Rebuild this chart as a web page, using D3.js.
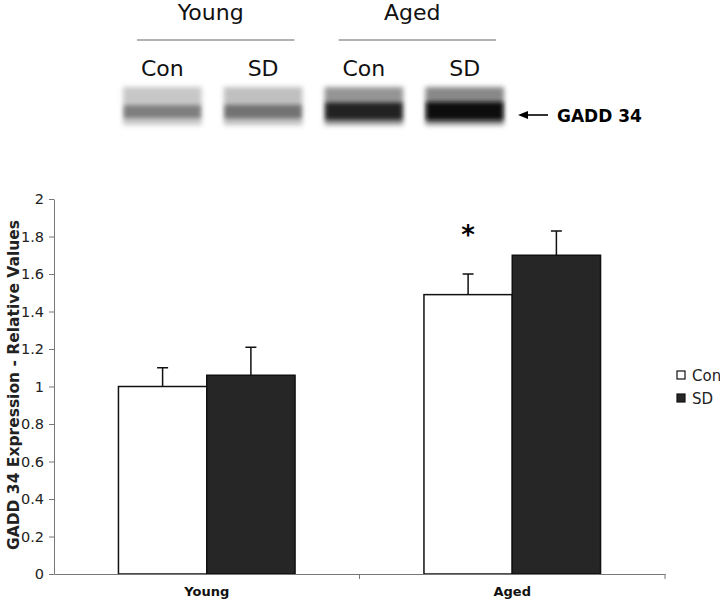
<!DOCTYPE html>
<html>
<head>
<meta charset="utf-8">
<script src="https://cdn.jsdelivr.net/npm/d3@7"></script>
<style>
  body { margin: 0; background: #fff; }
  svg { display: block; font-family: "DejaVu Sans", Verdana, sans-serif; }
</style>
</head>
<body>
<svg width="720" height="601"></svg>
<script>
// data
var groups = ["Young", "Aged"];
var series = ["Con", "SD"];
var meanValues = [[1.0, 1.06], [1.49, 1.70]];   // per group: Con, SD
var errorValues = [[0.10, 0.15], [0.11, 0.13]];
var yTicks = [0, 0.2, 0.4, 0.6, 0.8, 1, 1.2, 1.4, 1.6, 1.8, 2];
var significant = [[false, false], [true, false]];

// western blot lanes (band darkness 0..1)
var blotLanes = ["Con", "SD", "Con", "SD"];
var blotStrength = [0.6, 0.65, 0.92, 1.0];

var svg = d3.select("svg");

//----- blot panel -----
var blot = svg.append("g");
var xLane = d3.scaleBand().domain(d3.range(4)).range([122, 505]).paddingInner(0.2);

var defs = svg.append("defs");
defs.append("filter").attr("id", "blur").attr("x", "-20%").attr("y", "-80%").attr("width", "140%").attr("height", "260%")
    .append("feGaussianBlur").attr("stdDeviation", 2);
defs.append("filter").attr("id", "blur2").attr("x", "-20%").attr("y", "-50%").attr("width", "140%").attr("height", "200%")
    .append("feGaussianBlur").attr("stdDeviation", 2.5);

var grey = function(s) { return d3.interpolateGreys(s); };

// smear above and around the band
blot.selectAll(".smear").data(blotStrength).enter().append("rect")
    .attr("x", function(d, i) { return xLane(i) + 1; })
    .attr("y", 87)
    .attr("width", xLane.bandwidth() - 2)
    .attr("height", 38)
    .attr("fill", function(d) { return grey(d * 0.55); })
    .attr("filter", "url(#blur2)");
// main band
blot.selectAll(".band").data(blotStrength).enter().append("rect")
    .attr("x", function(d, i) { return xLane(i) + 2; })
    .attr("y", function(d) { return 110 - 8 * d; })
    .attr("width", xLane.bandwidth() - 4)
    .attr("height", function(d) { return 5 + 13 * d; })
    .attr("fill", function(d) { return grey(d * 0.97); })
    .attr("filter", "url(#blur)");

blot.selectAll(".lane").data(blotLanes).enter().append("text")
    .attr("x", function(d, i) { return xLane(i) + xLane.bandwidth() / 2; })
    .attr("y", 76)
    .attr("text-anchor", "middle")
    .attr("font-size", 22)
    .attr("fill", "#111")
    .text(function(d) { return d; });

groups.forEach(function(g, gi) {
    var x1 = xLane(gi * 2) + 15, x2 = xLane(gi * 2 + 1) + xLane.bandwidth() - 9;
    blot.append("line").attr("x1", x1).attr("x2", x2).attr("y1", 40).attr("y2", 40)
        .attr("stroke", "#666").attr("stroke-width", 1.2);
    blot.append("text").attr("x", (x1 + x2) / 2 - 5).attr("y", 20)
        .attr("text-anchor", "middle").attr("font-size", 22).attr("fill", "#111").text(g);
});

// arrow + label
blot.append("line").attr("x1", 548).attr("x2", 524).attr("y1", 115).attr("y2", 115)
    .attr("stroke", "#000").attr("stroke-width", 1.6);
blot.append("path").attr("d", "M518,115 L528,111 L528,119 Z").attr("fill", "#000");
blot.append("text").attr("x", 557).attr("y", 122).attr("font-size", 17).attr("font-weight", "bold")
    .attr("fill", "#000").text("GADD 34");

//----- bar chart -----
var x0 = d3.scaleBand().domain(groups).range([54, 665]);
var x1 = d3.scaleBand().domain(series).range([0, x0.bandwidth()]).paddingOuter(0.73);
var y = d3.scaleLinear().domain([0, 2]).range([574, 199]);
var fills = { Con: "#ffffff", SD: "#262626" };

var chart = svg.append("g");

var bars = [];
groups.forEach(function(g, gi) {
    series.forEach(function(s, si) {
        bars.push({ g: g, s: s, v: meanValues[gi][si], e: errorValues[gi][si], sig: significant[gi][si] });
    });
});

// error bars (drawn first so the bar covers the lower half)
chart.selectAll(".err").data(bars).enter().append("path")
    .attr("d", function(d) {
        var cx = x0(d.g) + x1(d.s) + x1.bandwidth() / 2;
        return "M" + cx + "," + y(d.v) + "V" + y(d.v + d.e) + "M" + (cx - 5.5) + "," + y(d.v + d.e) + "H" + (cx + 5.5);
    })
    .attr("stroke", "#111").attr("stroke-width", 1.5).attr("fill", "none");

chart.selectAll(".bar").data(bars).enter().append("rect")
    .attr("x", function(d) { return x0(d.g) + x1(d.s); })
    .attr("y", function(d) { return y(d.v); })
    .attr("width", x1.bandwidth())
    .attr("height", function(d) { return y(0) - y(d.v); })
    .attr("fill", function(d) { return fills[d.s]; })
    .attr("stroke", "#111").attr("stroke-width", 1.5);

chart.selectAll(".star").data(bars.filter(function(d) { return d.sig; })).enter().append("text")
    .attr("x", function(d) { return x0(d.g) + x1(d.s) + x1.bandwidth() / 2; })
    .attr("y", function(d) { return y(d.v + d.e) - 30; })
    .attr("text-anchor", "middle").attr("font-size", 26).attr("font-weight", "bold")
    .text("*");

// y axis
var yAxis = chart.append("g").attr("transform", "translate(54,0)")
    .call(d3.axisLeft(y).tickValues(yTicks).tickSize(5).tickSizeOuter(0).tickFormat(d3.format("")));
yAxis.select(".domain").attr("stroke", "#777");
yAxis.selectAll(".tick line").attr("stroke", "#777");
yAxis.selectAll("text").attr("font-size", 14.5).attr("fill", "#222").attr("font-family", "DejaVu Sans").attr("x", -10);

// x axis
var xAxis = chart.append("g").attr("transform", "translate(0,574)")
    .call(d3.axisBottom(x0).tickSize(0).tickSizeOuter(0));
xAxis.select(".domain").attr("stroke", "#777");
xAxis.selectAll("text").attr("font-size", 13).attr("font-weight", "bold").attr("fill", "#111")
    .attr("font-family", "DejaVu Sans").attr("y", 22).attr("dy", 0);
// category boundary ticks
xAxis.selectAll(".sep").data(x0.domain()).enter().append("line")
    .attr("x1", function(d) { return x0(d) + x0.bandwidth(); })
    .attr("x2", function(d) { return x0(d) + x0.bandwidth(); })
    .attr("y1", 0).attr("y2", 5).attr("stroke", "#777");

// y title
chart.append("text")
    .attr("transform", "translate(19,385) rotate(-90)")
    .attr("text-anchor", "middle").attr("font-size", 15.5).attr("font-weight", "bold").attr("fill", "#222")
    .text("GADD 34 Expression - Relative Values");

// legend
var legend = chart.selectAll(".legend").data(series).enter().append("g")
    .attr("transform", function(d, i) { return "translate(677," + (371 + i * 23) + ")"; });
legend.append("rect").attr("width", 8).attr("height", 8)
    .attr("fill", function(d) { return fills[d]; }).attr("stroke", "#111").attr("stroke-width", 1.2);
legend.append("text").attr("x", 15).attr("y", 9.5).attr("font-size", 15).attr("fill", "#222")
    .text(function(d) { return d; });
</script>
</body>
</html>
